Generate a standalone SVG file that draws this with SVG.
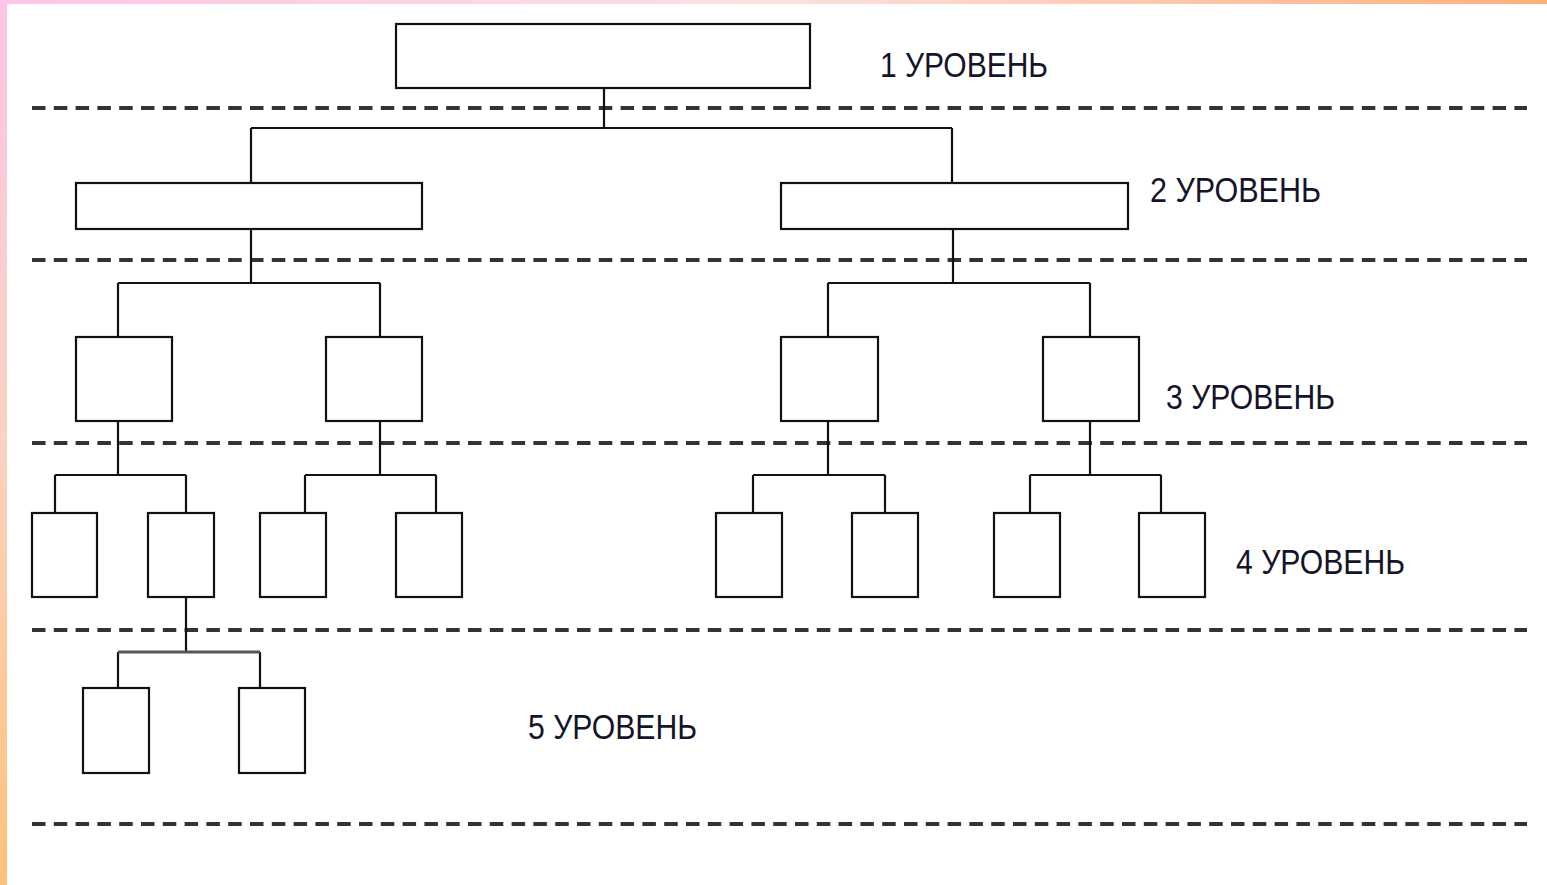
<svg xmlns="http://www.w3.org/2000/svg" width="1547" height="885" viewBox="0 0 1547 885">
<defs>
<linearGradient id="gl" x1="0" y1="0" x2="0" y2="1"><stop offset="0" stop-color="#fbc6e6"/><stop offset="0.5" stop-color="#fcd2c0"/><stop offset="1" stop-color="#fcc27a"/></linearGradient>
<linearGradient id="gt" x1="0" y1="0" x2="1" y2="0"><stop offset="0" stop-color="#fbc6e6"/><stop offset="0.5" stop-color="#fde0e0"/><stop offset="1" stop-color="#fdb07a"/></linearGradient>
</defs>
<style>
.box{fill:#fff;stroke:#111;stroke-width:2.2}
.c{fill:none;stroke:#111;stroke-width:2.2}
.d{fill:none;stroke:#333;stroke-width:4;stroke-dasharray:13.5 8.3}
.t{font-family:"Liberation Sans",Arial,sans-serif;font-size:35px;fill:#14142a}
</style>
<rect x="0" y="0" width="1547" height="885" fill="#fff"/>
<rect x="0" y="0" width="1547" height="4" fill="url(#gt)"/>
<rect x="0" y="0" width="7" height="885" fill="url(#gl)"/>
<g id="levels">
<line class="d" x1="32" y1="108" x2="1527" y2="108"/>
<line class="d" x1="32" y1="260" x2="1527" y2="260"/>
<line class="d" x1="32" y1="443" x2="1527" y2="443"/>
<line class="d" x1="32" y1="630" x2="1527" y2="630"/>
<line class="d" x1="32" y1="824" x2="1527" y2="824"/>
</g>
<g id="connectors">
<path class="c" d="M604 88V128M251 128H952M251 128V183M952 128V183"/>
<path class="c" d="M251 229V283M118 283H380M118 283V337M380 283V337"/>
<path class="c" d="M953 229V283M828 283H1090M828 283V337M1090 283V337"/>
<path class="c" d="M118 421V475M55 475H186M55 475V513M186 475V513"/>
<path class="c" d="M380 421V475M305 475H436M305 475V513M436 475V513"/>
<path class="c" d="M828 421V475M753 475H885M753 475V513M885 475V513"/>
<path class="c" d="M1090 421V475M1030 475H1161M1030 475V513M1161 475V513"/>
<path class="c" d="M186 597V652M118 652V688M260 652V688"/>
<path d="M118 652H260" fill="none" stroke="#555" stroke-width="3"/>
</g>
<g id="n1"><rect class="box" x="396" y="24" width="414" height="64"/></g>
<g id="n2a"><rect class="box" x="76" y="183" width="346" height="46"/></g>
<g id="n2b"><rect class="box" x="781" y="183" width="347" height="46"/></g>
<g id="n3a"><rect class="box" x="76" y="337" width="96" height="84"/></g>
<g id="n3b"><rect class="box" x="326" y="337" width="96" height="84"/></g>
<g id="n3c"><rect class="box" x="781" y="337" width="97" height="84"/></g>
<g id="n3d"><rect class="box" x="1043" y="337" width="96" height="84"/></g>
<g id="n4a"><rect class="box" x="32" y="513" width="65" height="84"/></g>
<g id="n4b"><rect class="box" x="148" y="513" width="66" height="84"/></g>
<g id="n4c"><rect class="box" x="260" y="513" width="66" height="84"/></g>
<g id="n4d"><rect class="box" x="396" y="513" width="66" height="84"/></g>
<g id="n4e"><rect class="box" x="716" y="513" width="66" height="84"/></g>
<g id="n4f"><rect class="box" x="852" y="513" width="66" height="84"/></g>
<g id="n4g"><rect class="box" x="994" y="513" width="66" height="84"/></g>
<g id="n4h"><rect class="box" x="1139" y="513" width="66" height="84"/></g>
<g id="n5a"><rect class="box" x="83" y="688" width="66" height="85"/></g>
<g id="n5b"><rect class="box" x="239" y="688" width="66" height="85"/></g>
<g id="labels">
<text class="t" x="880" y="77" textLength="168" lengthAdjust="spacingAndGlyphs">1 УРОВЕНЬ</text>
<text class="t" x="1150" y="202" textLength="171" lengthAdjust="spacingAndGlyphs">2 УРОВЕНЬ</text>
<text class="t" x="1166" y="409" textLength="169" lengthAdjust="spacingAndGlyphs">3 УРОВЕНЬ</text>
<text class="t" x="1236" y="574" textLength="169" lengthAdjust="spacingAndGlyphs">4 УРОВЕНЬ</text>
<text class="t" x="528" y="739" textLength="169" lengthAdjust="spacingAndGlyphs">5 УРОВЕНЬ</text>
</g>
</svg>
